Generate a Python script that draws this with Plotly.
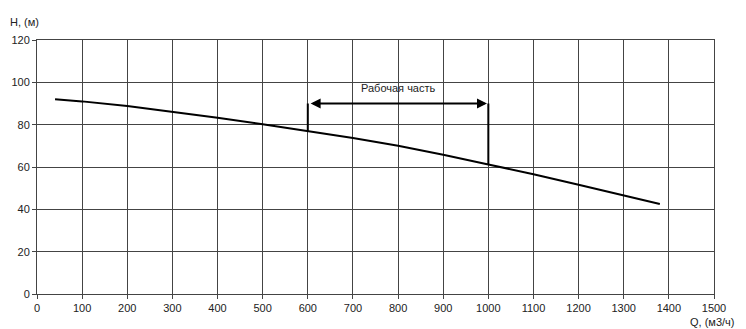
import plotly.graph_objects as go

q_vals = [40, 100, 200, 300, 400, 500, 600, 700, 800, 900, 1000, 1100, 1200, 1300, 1380]
h_vals = [92.0, 91.0, 88.8, 86.2, 83.3, 80.2, 77.0, 73.7, 70.0, 65.8, 61.2, 56.6, 51.6, 46.6, 42.5]

work_start = 600
work_end = 1000
work_level = 90
work_h_start = 77.0
work_h_end = 61.2
work_label = "Рабочая часть"

x_ticks = list(range(0, 1501, 100))
y_ticks = list(range(0, 121, 20))

fig = go.Figure()
fig.add_trace(go.Scatter(x=q_vals, y=h_vals, mode="lines",
                         line=dict(color="black", width=2), showlegend=False))
# vertical bounds of working zone
fig.add_trace(go.Scatter(x=[work_start, work_start, None, work_end, work_end],
                         y=[work_h_start, work_level, None, work_h_end, work_level],
                         mode="lines", line=dict(color="black", width=2), showlegend=False))

fig.add_annotation(x=work_end - 3, y=work_level, ax=work_start + 3, ay=work_level,
                   xref="x", yref="y", axref="x", ayref="y",
                   showarrow=True, arrowhead=2, arrowside="end+start",
                   arrowwidth=2, arrowsize=1, arrowcolor="black", text="")
fig.add_annotation(x=(work_start + work_end) / 2, y=97.5, xref="x", yref="y",
                   text=work_label, showarrow=False,
                   font=dict(size=11, color="#222", family="Liberation Sans, Arial"))

fig.add_annotation(x=0, y=1, xref="paper", yref="paper", xanchor="right", yanchor="bottom",
                   xshift=4, yshift=10, text="H, (м)", showarrow=False,
                   font=dict(size=11, color="#222", family="Liberation Sans, Arial"))
fig.add_annotation(x=1, y=0, xref="paper", yref="paper", xanchor="center", yanchor="top",
                   xshift=-2, yshift=-20, text="Q, (м3/ч)", showarrow=False,
                   font=dict(size=11, color="#222", family="Liberation Sans, Arial"))

axis_common = dict(showgrid=True, gridcolor="#444", gridwidth=1,
                   showline=True, linecolor="#444", linewidth=1, mirror=True,
                   ticks="outside", ticklen=4, tickcolor="#444", zeroline=False,
                   tickfont=dict(size=11, color="#222", family="Liberation Sans, Arial"))

fig.update_xaxes(range=[0, 1500], tickvals=x_ticks, ticktext=[str(v) for v in x_ticks], **axis_common)
fig.update_yaxes(range=[0, 120], tickvals=y_ticks, ticktext=[str(v) for v in y_ticks], **axis_common)

fig.update_layout(width=746, height=329, margin=dict(l=37, r=32, t=40, b=35),
                  plot_bgcolor="white", paper_bgcolor="white")

fig.write_html("out.html")
